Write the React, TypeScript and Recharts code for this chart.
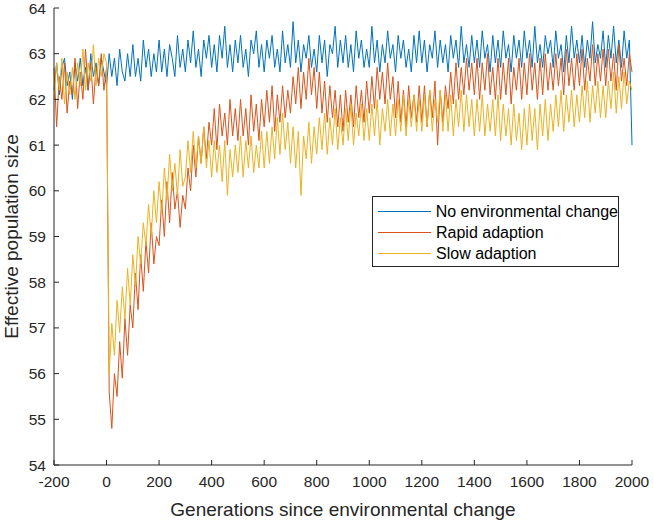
import { LineChart, Line, XAxis, YAxis, Legend, Label } from "recharts";

// generations -200..2000, sampled every 10
const gens = Array.from({ length: 221 }, (_, i) => -200 + i * 10);

const noChange = [
  62.2, 62.8, 62.1, 62.7, 62.9, 62.3, 62.6, 62.0, 62.8, 62.4,
  62.9, 62.3, 62.7, 62.2, 63.0, 62.5, 62.8, 62.3, 62.9, 62.6,
  62.3, 63.0, 62.5, 62.9, 62.3, 63.1, 62.6, 62.4, 63.0, 62.5,
  63.2, 62.5, 62.9, 62.4, 63.3, 62.7, 63.1, 62.5, 63.0, 62.6,
  63.3, 62.6, 63.1, 62.5, 63.2, 62.9, 62.5, 63.4, 62.7, 63.1,
  62.6, 63.3, 62.8, 63.5, 62.7, 63.1, 62.5, 63.3, 62.9, 63.4,
  62.7, 63.2, 62.6, 63.4, 62.9, 63.6, 62.7, 63.2, 62.6, 63.3,
  62.8, 63.4, 62.7, 63.1, 62.5, 63.3, 63.0, 63.5, 62.7, 63.2,
  62.6, 63.3, 62.9, 63.4, 62.7, 63.1, 62.6, 63.5, 62.8, 63.2,
  62.7, 63.7, 62.8, 63.3, 62.6, 63.2, 62.9, 63.4, 62.7, 63.1,
  62.6, 63.4, 62.8, 63.3, 62.5, 63.2, 63.0, 63.6, 62.7, 63.3,
  62.8, 63.4, 62.7, 63.2, 62.6, 63.5, 62.9, 63.3, 62.7, 63.1,
  62.7, 63.6, 62.8, 63.3, 62.6, 63.2, 62.8, 63.5, 62.9, 63.2,
  62.6, 63.4, 62.9, 63.3, 62.7, 63.1, 62.6, 63.4, 62.8, 63.5,
  62.8, 63.3, 62.6, 63.2, 62.9, 63.5, 62.7, 63.3, 62.8, 63.2,
  62.6, 63.4, 62.9, 63.3, 62.7, 63.6, 62.8, 63.2, 62.7, 63.4,
  62.8, 63.3, 62.7, 63.5, 62.9, 63.2, 62.6, 63.4, 62.8, 63.3,
  62.7, 63.5, 62.9, 63.2, 62.6, 63.4, 62.9, 63.3, 62.7, 63.5,
  62.9, 63.3, 62.7, 63.6, 62.8, 63.2, 62.7, 63.4, 63.0, 63.3,
  62.7, 63.5, 62.9, 63.2, 62.6, 63.4, 62.8, 63.6, 62.9, 63.3,
  62.8, 63.4, 62.7, 63.3, 62.9, 63.7, 62.8, 63.2, 62.9, 63.5,
  62.7, 63.4, 62.9, 63.6, 62.8, 63.3, 62.7, 63.5, 62.9, 63.3,
  61.0,
];

const rapid = [
  62.7, 61.4, 62.5, 62.0, 62.8, 61.7, 62.4, 62.1, 62.9, 61.8,
  62.6, 62.0, 63.1, 62.2, 62.8, 61.9, 62.7, 62.3, 63.0, 62.2,
  62.7, 55.6, 54.8, 56.0, 55.5, 56.7, 55.9, 57.2, 56.4, 57.5,
  57.0, 58.2, 57.4, 58.6, 57.8, 58.9, 58.2, 59.3, 58.4, 59.0,
  58.8, 59.8, 59.0, 60.2, 59.3, 60.4, 59.6, 60.0, 59.2, 59.9,
  59.6, 60.5, 60.0, 61.0, 60.3, 61.2, 60.6, 61.4, 60.7, 61.5,
  61.0, 61.8, 60.9, 61.9, 61.2, 61.7, 61.0, 62.0, 61.2, 61.8,
  61.1, 62.0, 61.2, 61.8, 61.0, 62.1, 61.3, 61.9, 61.1, 62.0,
  61.4, 62.2, 61.5, 62.3, 61.3, 62.1, 61.5, 62.3, 61.6, 62.2,
  61.7, 62.5, 61.9, 62.7, 61.8, 62.6, 62.0, 62.9, 62.1, 62.7,
  61.8, 62.6, 61.7, 62.4, 61.5, 62.3, 61.6, 62.2, 61.4, 62.1,
  61.3, 62.2, 61.5, 62.1, 61.4, 62.3, 61.6, 62.2, 61.5, 62.4,
  61.7, 62.5, 61.8, 62.7, 62.0, 62.6, 61.9, 62.8, 62.0, 62.5,
  61.6, 62.4, 61.5, 62.2, 61.4, 62.3, 61.6, 62.1, 61.5, 62.3,
  61.5, 62.3, 61.4, 62.2, 61.6, 62.4, 61.0, 62.2, 61.5, 62.3,
  61.8, 62.6, 61.9, 62.8, 62.0, 62.7, 62.1, 62.9, 62.2, 62.8,
  62.1, 62.9, 62.0, 62.8, 62.2, 63.0, 62.1, 62.7, 62.0, 62.9,
  62.0, 62.8, 62.1, 62.9, 61.9, 62.7, 62.2, 62.9, 62.0, 62.8,
  62.1, 63.0, 62.2, 62.8, 62.0, 62.9, 62.1, 63.0, 62.2, 62.8,
  62.2, 63.0, 62.3, 62.9, 62.1, 63.1, 62.3, 62.9, 62.2, 63.0,
  62.3, 63.1, 62.2, 62.9, 62.4, 63.2, 62.3, 63.0, 62.4, 63.1,
  62.3, 63.1, 62.4, 63.0, 62.2, 63.2, 62.4, 62.9, 62.3, 63.0,
  62.6,
];

const slow = [
  62.0, 62.8, 62.2, 62.9, 61.9, 62.6, 62.1, 62.7, 62.0, 62.8,
  62.3, 63.1, 62.2, 62.8, 62.4, 63.2, 62.3, 62.9, 62.5, 63.0,
  62.8, 56.0, 57.1, 56.4, 57.6, 56.9, 57.9, 57.2, 58.3, 57.5,
  58.6, 57.9, 59.0, 58.4, 59.3, 58.8, 59.7, 59.0, 60.0, 59.3,
  60.2, 59.5, 60.5, 59.8, 60.8, 60.0, 60.6, 59.9, 60.9, 60.1,
  60.3, 61.1, 60.4, 61.3, 60.5, 61.2, 60.6, 61.4, 60.5, 61.1,
  60.3, 61.1, 60.4, 61.0, 60.2, 61.1, 59.9, 60.9, 60.3, 61.0,
  60.4, 61.2, 60.3, 61.1, 60.5, 61.2, 60.4, 61.0, 60.5, 61.3,
  60.5, 61.3, 60.6, 61.4, 60.7, 61.6, 60.8, 61.7, 60.9, 61.5,
  60.6, 61.4, 60.5, 61.3, 59.9, 61.2, 60.7, 61.5, 60.6, 61.4,
  60.8, 61.6, 60.9, 61.7, 60.8, 61.6, 61.0, 61.8, 60.9, 61.6,
  61.0, 61.8, 61.1, 61.9, 61.0, 61.7, 61.2, 61.9, 61.1, 61.8,
  61.1, 61.9, 61.2, 62.0, 61.0, 61.8, 61.3, 62.0, 61.2, 61.9,
  61.2, 62.0, 61.3, 62.1, 61.2, 62.0, 61.4, 62.1, 61.3, 62.0,
  61.3, 62.1, 61.4, 62.2, 61.3, 62.0, 61.5, 62.2, 61.3, 62.1,
  61.3, 62.1, 61.2, 62.0, 61.4, 62.2, 61.3, 62.1, 61.4, 62.0,
  61.2, 62.0, 61.3, 62.1, 61.2, 61.9, 61.3, 62.0, 61.2, 62.1,
  61.1, 61.9, 61.2, 61.8, 61.0, 61.9, 61.1, 61.7, 60.9, 61.8,
  61.0, 61.9, 61.1, 61.8, 60.9, 61.9, 61.2, 62.0, 61.1, 61.9,
  61.3, 62.1, 61.4, 62.2, 61.3, 62.1, 61.5, 62.2, 61.4, 62.1,
  61.5, 62.3, 61.6, 62.4, 61.5, 62.3, 61.7, 62.4, 61.6, 62.3,
  61.6, 62.4, 61.8, 62.6, 61.7, 62.5, 61.8, 62.6, 61.9, 62.4,
  62.2,
];

const xTicks = [-200, 0, 200, 400, 600, 800, 1000, 1200, 1400, 1600, 1800, 2000];
const yTicks = [54, 55, 56, 57, 58, 59, 60, 61, 62, 63, 64];

const data = gens.map((g, i) => ({
  gen: g,
  noChange: noChange[i],
  rapid: rapid[i],
  slow: slow[i],
}));

const axisColor = "#262626";
const font = '"Liberation Sans", Arial, sans-serif';
const tickLen = 5;

const BottomTick = ({ x, y, payload }: any) => (
  <g>
    <line x1={x} y1={y} x2={x} y2={y - tickLen} stroke={axisColor} />
    <text x={x} y={y + 22} textAnchor="middle" fontSize={15.5} fill={axisColor} fontFamily={font}>
      {payload.value}
    </text>
  </g>
);

const TopTick = ({ x, y }: any) => (
  <line x1={x} y1={y} x2={x} y2={y + tickLen} stroke={axisColor} />
);

const LeftTick = ({ x, y, payload }: any) => (
  <g>
    <line x1={x} y1={y} x2={x + tickLen} y2={y} stroke={axisColor} />
    <text x={x - 8} y={y + 5.5} textAnchor="end" fontSize={15.5} fill={axisColor} fontFamily={font}>
      {payload.value}
    </text>
  </g>
);

const RightTick = ({ x, y }: any) => (
  <line x1={x} y1={y} x2={x - tickLen} y2={y} stroke={axisColor} />
);

const renderLegend = ({ payload }: any) => (
  <div
    style={{
      width: 247,
      height: 71,
      boxSizing: "border-box",
      border: `1px solid ${axisColor}`,
      background: "#fff",
      paddingTop: 4,
      fontFamily: font,
      fontSize: 16,
      color: "#000",
    }}
  >
    {(payload || []).map((p: any) => (
      <div key={p.value} style={{ display: "flex", alignItems: "center", height: 21 }}>
        <div style={{ width: 53, height: 1, background: p.color, marginLeft: 5, marginRight: 5 }} />
        <span style={{ whiteSpace: "nowrap" }}>{p.value}</span>
      </div>
    ))}
  </div>
);

export default function App() {
  return (
    <div style={{ position: "absolute", left: 0, top: 0, width: 654, height: 522, background: "#fff" }}>
      <LineChart width={654} height={522} data={data} margin={{ top: 8, right: 22, bottom: 0, left: 0 }}>
        <XAxis
          dataKey="gen"
          type="number"
          domain={[-200, 2000]}
          ticks={xTicks}
          interval={0}
          height={57}
          tickSize={0}
          tickMargin={0}
          tickLine={false}
          axisLine={{ stroke: axisColor }}
          tick={BottomTick}
        >
          <Label
            content={({ viewBox }: any) => (
              <text
                x={viewBox.x + viewBox.width / 2}
                y={viewBox.y + 51}
                textAnchor="middle"
                fontSize={19}
                fill={axisColor}
                fontFamily={font}
              >
                Generations since environmental change
              </text>
            )}
          />
        </XAxis>
        <XAxis
          xAxisId="top"
          orientation="top"
          dataKey="gen"
          type="number"
          domain={[-200, 2000]}
          ticks={xTicks}
          interval={0}
          height={0}
          tickSize={0}
          tickMargin={0}
          tickLine={false}
          axisLine={{ stroke: axisColor }}
          tick={TopTick}
        />
        <YAxis
          type="number"
          domain={[54, 64]}
          ticks={yTicks}
          interval={0}
          width={54}
          tickSize={0}
          tickMargin={0}
          tickLine={false}
          axisLine={{ stroke: axisColor }}
          tick={LeftTick}
        >
          <Label
            content={({ viewBox }: any) => {
              const cy = viewBox.y + viewBox.height / 2;
              return (
                <text
                  x={18}
                  y={cy}
                  transform={`rotate(-90, 18, ${cy})`}
                  textAnchor="middle"
                  fontSize={19}
                  fill={axisColor}
                  fontFamily={font}
                >
                  Effective population size
                </text>
              );
            }}
          />
        </YAxis>
        <YAxis
          yAxisId="right"
          orientation="right"
          type="number"
          domain={[54, 64]}
          ticks={yTicks}
          interval={0}
          width={0}
          tickSize={0}
          tickMargin={0}
          tickLine={false}
          axisLine={{ stroke: axisColor }}
          tick={RightTick}
        />
        <Legend
          layout="vertical"
          align="center"
          verticalAlign="middle"
          content={renderLegend}
          wrapperStyle={{ left: 372, top: 196, width: 247, height: 71 }}
        />
        <Line
          name="No environmental change"
          dataKey="noChange"
          stroke="#0072BD"
          strokeWidth={1}
          dot={false}
          isAnimationActive={false}
        />
        <Line
          name="Rapid adaption"
          dataKey="rapid"
          stroke="#D95319"
          strokeWidth={1}
          dot={false}
          isAnimationActive={false}
        />
        <Line
          name="Slow adaption"
          dataKey="slow"
          stroke="#EDB120"
          strokeWidth={1}
          dot={false}
          isAnimationActive={false}
        />
      </LineChart>
    </div>
  );
}
